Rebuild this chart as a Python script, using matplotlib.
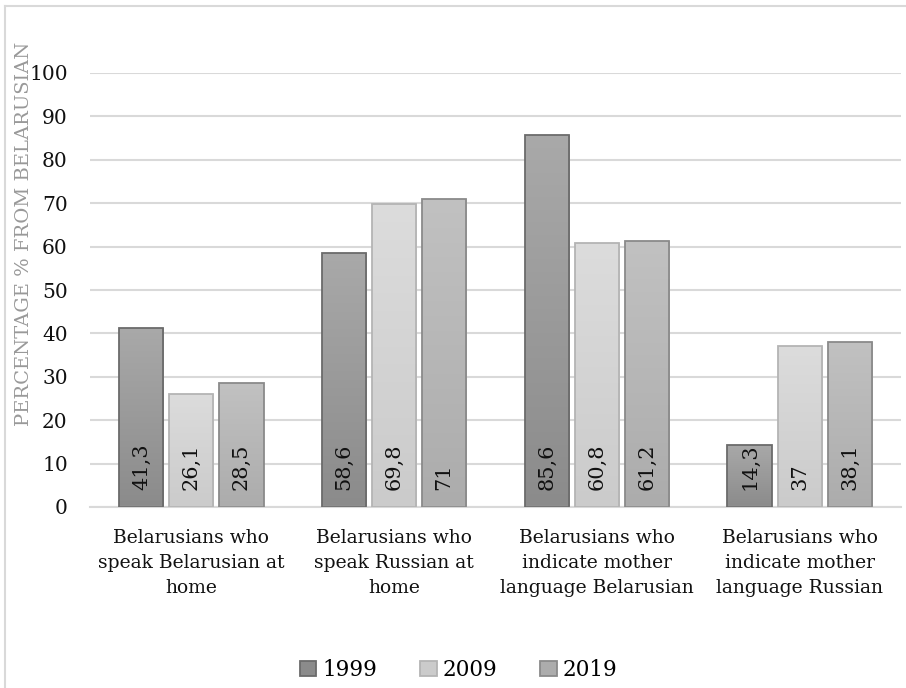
import numpy as np
import matplotlib.pyplot as plt
from matplotlib.lines import Line2D
from matplotlib.patches import Patch

plt.rcParams['font.family'] = ['DejaVu Serif']

categories = [
    "Belarusians who\nspeak Belarusian at\nhome",
    "Belarusians who\nspeak Russian at\nhome",
    "Belarusians who\nindicate mother\nlanguage Belarusian",
    "Belarusians who\nindicate mother\nlanguage Russian",
]
years = ["1999", "2009", "2019"]
v1999 = [41.3, 58.6, 85.6, 14.3]
v2009 = [26.1, 69.8, 60.8, 37]
v2019 = [28.5, 71, 61.2, 38.1]
series = [v1999, v2009, v2019]

# (top colour, bottom colour, edge colour) for each year
shades = [
    ("#a9a9a9", "#8b8b8b", "#6b6b6b"),
    ("#dcdcdc", "#cbcbcb", "#b4b4b4"),
    ("#c1c1c1", "#acacac", "#8a8a8a"),
]


def fmt(v):
    s = f"{v:g}"
    return s.replace(".", ",")


W, H = 906, 688
fig = plt.figure(figsize=(W / 100, H / 100), dpi=100)
ax = fig.add_axes([90 / W, 1 - 507 / H, 811 / W, 434 / H])

x = np.arange(len(categories))
step = 0.247
width = 0.218

for i, vals in enumerate(series):
    top, bot, edge = shades[i]
    grad = np.linspace(0, 1, 256).reshape(-1, 1)
    cmap = plt.matplotlib.colors.LinearSegmentedColormap.from_list("g", [bot, top])
    bars = ax.bar(x + (i - 1) * step, vals, width, facecolor="none",
                  edgecolor=edge, linewidth=1.3, zorder=3)
    for b, v in zip(bars, vals):
        x0, y0 = b.get_x(), b.get_y()
        im = ax.imshow(grad, cmap=cmap, origin="lower", aspect="auto",
                       extent=[x0, x0 + b.get_width(), y0, y0 + b.get_height()],
                       zorder=2)
        im.set_clip_path(b)
        ax.text(b.get_x() + b.get_width() / 2, 3.9, fmt(v), rotation=90,
                rotation_mode="anchor", ha="left", va="center",
                fontsize=15, color="#111111", zorder=4)

ax.set_xlim(-0.5, len(categories) - 0.5)
ax.set_ylim(0, 100)
ax.set_yticks(range(0, 101, 10))
ax.yaxis.grid(True, color="#d9d9d9", linewidth=1.5, zorder=0)
ax.set_axisbelow(True)
for s in ["top", "right", "left"]:
    ax.spines[s].set_visible(False)
ax.spines["bottom"].set_color("#d9d9d9")
ax.spines["bottom"].set_linewidth(1.5)
ax.tick_params(axis="y", length=0, pad=16, labelsize=14.5, labelcolor="#111111")
ax.tick_params(axis="x", length=0, pad=16)
ax.set_xticks(x)
ax.set_xticklabels(categories, fontsize=13.5, linespacing=1.5, color="#111111")

fig.text(24 / W, 1 - 234 / H, "PERCENTAGE % FROM BELARUSIAN", rotation=90,
         ha="center", va="center", fontsize=14, color="#999999")

handles = [Patch(facecolor=shades[i][1], edgecolor=shades[i][2], linewidth=1.3)
           for i in range(3)]
fig.legend(handles, years, loc="center", bbox_to_anchor=(459 / W, 1 - 670 / H),
           ncol=3, frameon=False, fontsize=15.5, handlelength=0.75,
           handleheight=0.75, handletextpad=0.3, columnspacing=1.98)

# chart border (only top and left edges are visible in the crop)
fig.add_artist(Line2D([5 / W, 1], [1 - 6 / H, 1 - 6 / H], color="#d9d9d9", linewidth=1.5))
fig.add_artist(Line2D([5 / W, 5 / W], [0, 1 - 6 / H], color="#d9d9d9", linewidth=1.5))

fig.savefig("out.png", dpi=100)
